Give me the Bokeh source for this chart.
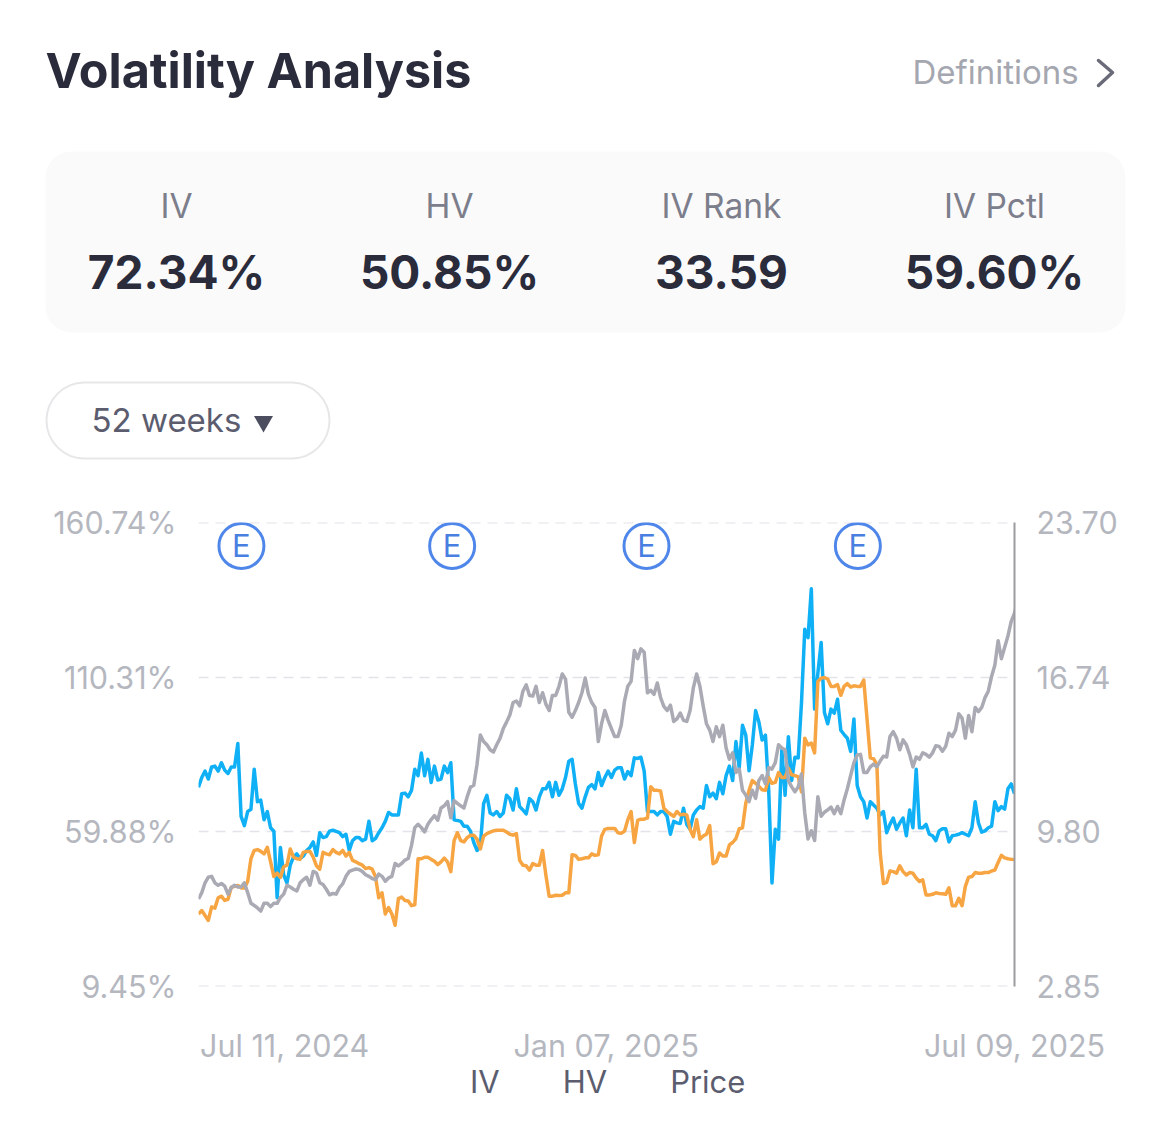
from bokeh.plotting import figure
from bokeh.models import (Range1d, LinearAxis, FixedTicker, BoxAnnotation, Legend, LegendItem)
from bokeh.core.properties import value
from bokeh.embed import file_html
from bokeh.resources import INLINE

iv = [74.4,77.6,79.7,77.1,81.0,81.3,79.7,82.4,80.0,78.9,81.0,81.0,88.7,64.9,61.9,66.5,67.2,80.3,69.7,70.2,63.8,66.5,61.2,60.1,38.4,54.8,45.8,43.2,49.0,51.7,52.7,51.1,52.0,53.8,54.8,56.6,52.2,59.6,58.0,58.3,60.1,60.4,60.0,59.6,58.3,59.1,53.8,57.0,58.0,58.0,57.0,57.5,63.3,57.0,57.7,59.6,61.2,63.3,66.2,65.4,65.4,65.4,72.3,72.5,71.3,73.4,80.3,78.2,85.6,78.2,83.5,76.0,81.3,76.8,77.1,81.3,79.2,82.4,63.8,63.6,63.3,61.7,61.7,60.1,56.4,53.8,55.4,
      69.1,71.8,66.0,65.4,66.5,64.9,66.0,71.8,70.7,67.0,73.9,68.1,67.0,65.7,70.7,69.7,67.0,71.3,73.9,73.9,76.0,71.3,76.0,71.8,73.9,77.6,82.9,83.5,75.5,69.1,67.6,71.3,74.4,75.3,73.9,79.2,75.0,77.6,79.7,77.6,80.0,80.8,80.8,77.1,79.5,78.2,84.0,83.8,84.2,79.7,66.5,66.5,66.5,65.4,66.5,66.5,64.9,59.1,63.3,62.8,62.6,67.6,62.3,60.7,65.4,67.0,68.1,67.6,75.0,71.3,72.5,70.7,76.0,72.3,78.2,81.3,76.6,89.3,80.8,94.6,
      91.4,79.8,88.2,99.4,95.7,89.8,91.4,73.4,43.2,60.7,57.5,86.6,71.8,90.9,76.6,84.2,84.0,102.0,125.9,123.2,139.1,99.9,111.6,121.6,98.8,95.1,99.9,98.6,103.1,93.0,91.6,90.4,86.1,96.7,75.0,71.3,69.7,64.4,69.7,68.6,67.6,65.4,66.5,59.6,62.3,64.4,60.7,62.8,64.4,58.6,67.0,61.2,80.3,61.2,61.2,62.3,59.1,58.6,57.0,60.2,60.9,60.9,56.6,58.6,58.8,59.1,59.6,59.1,58.6,61.2,69.7,62.8,59.8,60.2,61.2,61.7,69.7,66.8,68.1,67.3,73.9,75.5,72.34]

hv = [33.1,34.2,32.6,31.0,35.4,35.0,38.4,38.9,37.5,37.9,41.8,42.1,42.4,41.6,41.6,43.7,51.1,53.8,54.1,53.5,52.7,54.8,50.1,45.3,46.4,45.0,48.5,49.0,54.3,51.6,51.1,50.9,53.2,53.5,53.5,51.6,48.8,47.7,53.2,52.7,52.4,54.1,53.2,52.7,53.8,52.0,53.2,50.6,50.1,49.5,49.0,47.9,48.2,47.7,45.3,38.4,40.0,33.1,35.2,33.1,29.4,38.1,38.6,37.5,37.3,35.8,36.1,51.1,51.1,51.6,51.6,50.9,50.3,49.2,50.1,51.3,50.1,46.9,57.0,59.6,57.0,56.6,58.0,58.8,58.8,57.5,54.3,58.5,59.3,59.8,60.2,60.4,60.4,60.4,59.8,59.1,58.8,59.3,50.6,49.0,48.8,47.4,49.5,49.0,49.0,53.8,45.8,38.9,38.9,39.2,39.1,39.2,40.0,40.0,52.4,52.2,50.9,51.1,51.4,51.4,52.7,52.2,52.4,58.5,60.7,61.0,61.0,61.0,59.6,59.4,60.1,63.8,66.5,56.4,63.6,64.0,64.0,64.4,74.6,73.4,73.4,73.2,67.6,66.5,65.7,64.9,66.5,65.4,65.6,65.4,60.7,58.3,63.8,57.5,58.5,59.1,61.9,49.5,50.1,53.0,52.0,52.0,55.6,56.4,57.7,60.9,61.2,
      69.2,73.4,76.6,75.7,74.7,73.6,73.4,77.6,75.7,76.0,79.2,77.6,77.6,80.6,78.5,78.2,77.9,72.9,90.4,88.2,88.8,85.6,108.9,110.0,110.2,109.7,107.3,107.3,107.9,104.4,107.3,108.2,107.1,107.5,107.3,107.3,109.4,96.7,84.0,83.7,81.9,53.3,43.0,43.4,47.1,46.9,46.4,48.8,46.9,45.8,46.6,46.4,44.8,43.7,44.2,39.3,39.3,39.5,40.0,39.8,39.7,39.5,41.6,35.8,35.8,38.2,35.8,42.1,45.1,45.3,46.6,46.4,46.4,46.6,46.6,47.1,47.4,49.9,52.2,51.4,51.1,50.9,50.85]

price = [6.78,7.07,7.51,7.76,7.80,7.51,7.40,7.48,7.36,7.00,7.29,7.40,7.32,7.32,7.51,7.07,6.59,6.49,6.38,6.24,6.59,6.59,6.44,6.59,6.59,6.85,7.00,7.40,7.32,7.22,7.14,7.51,7.65,7.76,7.40,8.02,7.95,7.51,7.43,7.22,6.97,7.03,7.00,7.29,7.46,7.80,8.02,8.08,8.13,8.11,8.02,7.87,7.80,7.70,7.65,7.90,7.80,7.58,7.73,7.80,8.38,8.27,8.38,8.53,8.60,9.19,9.99,10.14,9.99,9.80,10.14,10.35,10.53,10.32,10.87,10.97,11.16,10.43,11.20,11.08,10.97,10.87,11.38,11.81,11.89,
         12.84,14.15,13.86,13.71,13.49,13.39,13.71,14.00,14.44,14.73,15.05,15.61,15.68,15.46,16.12,16.41,15.93,15.90,16.34,15.61,16.05,15.54,15.25,15.93,15.93,16.34,16.89,16.66,15.17,14.95,15.25,15.61,16.05,16.71,15.98,15.61,15.39,13.86,14.66,15.25,14.81,14.44,14.08,14.08,14.59,15.68,16.34,16.56,17.95,17.58,18.02,17.87,16.05,16.16,15.98,16.49,15.83,15.44,15.25,15.49,14.76,14.88,15.14,14.81,14.76,15.25,16.27,16.89,16.34,15.46,14.66,14.37,13.86,14.52,14.08,14.59,13.57,13.06,13.35,12.47,12.62,
         11.67,11.45,11.16,11.67,11.30,12.11,12.33,11.96,12.69,12.62,12.91,13.71,13.57,13.49,12.11,11.82,11.60,11.82,12.40,10.65,9.48,9.85,9.41,11.38,10.50,10.68,10.79,10.91,10.62,10.94,10.62,11.23,11.74,12.33,12.91,13.25,13.28,12.47,12.47,12.72,12.84,12.72,12.98,13.20,13.16,14.08,14.30,14.01,13.49,13.93,13.71,13.28,12.72,13.16,13.06,13.35,13.28,13.16,13.35,13.67,13.64,13.42,13.64,14.23,14.08,14.37,15.10,14.91,14.01,15.03,14.30,15.39,15.20,15.39,15.83,16.12,16.78,17.29,18.39,17.58,18.09,18.60,19.26,19.63,20.21]

n_days = 250
iv_ticks = [9.45, 59.88, 110.31, 160.74]
price_ticks = [2.85, 9.80, 16.74, 23.70]
date_ticks = [26.3, 124.4, 249]
date_labels = ["Jul 11, 2024", "Jan 07, 2025", "Jul 09, 2025"]
earnings_days = [13.1, 77.4, 136.7, 201.2]
earnings_level = [153.1, 153.1, 153.1, 153.1]
stat_names = ["IV", "HV", "IV Rank", "IV Pctl"]
stat_values = ["72.34%", "50.85%", "33.59", "59.60%"]
stat_centers = [176, 449, 721, 994]
legend_names = ["IV", "HV", "Price"]

FONT = "Inter"
C_IV, C_HV, C_PRICE = "#0fb0f5", "#f7a543", "#a9aab3"
C_TICK = "#b5b7bf"

# ---------- header (page pixels)
h = figure(width=1162, height=490, x_range=Range1d(0, 1162), y_range=Range1d(490, 0),
           output_backend="svg", toolbar_location=None, min_border=0, outline_line_color=None)
h.axis.visible = False
h.grid.visible = False
h.add_layout(BoxAnnotation(left=45, right=1125, top=151, bottom=332, border_radius=26, level="underlay",
                           fill_color="#fafafb", fill_alpha=1, line_color=None))
h.add_layout(BoxAnnotation(left=46, right=329, top=382, bottom=458, border_radius=38, level="underlay",
                           fill_color="#ffffff", fill_alpha=1, line_color="#aeaeb5", line_width=2))
def t(x, y, s, size, color, align="left", style="normal"):
    h.text(x=[x], y=[y], text=[s], text_font=value(FONT), text_font_size=f"{size}px", text_color=color,
           text_align=align, text_baseline="middle", text_font_style=style)
t(45, 70, "Volatility Analysis", 48.5, "#2b2c3b", style="bold")
t(912, 71, "Definitions", 33, "#a5a7b0")
h.line([1098, 1112, 1098], [60, 72, 85], line_color="#6a6b78", line_width=3.5, line_cap="round", line_join="round")
for cx, n, v in zip(stat_centers, stat_names, stat_values):
    t(cx, 205, n, 33.5, "#7c7e8b", "center")
    t(cx, 271, v, 46, "#2b2c3b", "center", "bold")
t(91, 419, "52 weeks", 33, "#5b5d6f")
h.scatter([263], [421], marker="inverted_triangle", size=19, fill_color="#4c4e60", line_color=None)

# ---------- chart
p = figure(width=1162, height=576, x_range=Range1d(0, n_days - 1), y_range=Range1d(iv_ticks[0], iv_ticks[-1]),
           output_backend="svg", toolbar_location=None, outline_line_color=None,
           min_border_left=198, min_border_right=148, min_border_top=32, min_border_bottom=68)
p.extra_y_ranges = {"price": Range1d(price_ticks[0], price_ticks[-1])}

def style(ax):
    ax.major_tick_line_color = None
    ax.minor_tick_line_color = None
    ax.major_label_text_font = FONT
    ax.major_label_text_font_size = "30.5px"
    ax.major_label_text_color = C_TICK

p.yaxis.ticker = FixedTicker(ticks=iv_ticks)
p.yaxis.major_label_overrides = {v: f"{v:.2f}%" for v in iv_ticks}
p.yaxis.axis_line_color = None
p.yaxis.major_label_standoff = 16
style(p.yaxis[0])

ra = LinearAxis(y_range_name="price", ticker=FixedTicker(ticks=price_ticks))
ra.major_label_overrides = {v: f"{v:.2f}" for v in price_ticks}
ra.axis_line_color = "#9b9ba2"
ra.axis_line_width = 2
ra.major_label_standoff = 16
style(ra)
p.add_layout(ra, "right")

p.xaxis.ticker = FixedTicker(ticks=date_ticks)
p.xaxis.major_label_overrides = dict(zip(date_ticks, date_labels))
p.xaxis.axis_line_color = None
p.xaxis.major_label_standoff = 34
style(p.xaxis[0])

p.xgrid.visible = False
p.ygrid.ticker = FixedTicker(ticks=iv_ticks)
p.ygrid.grid_line_color = "#e3e4ea"
p.ygrid.grid_line_width = 1.5
p.ygrid.grid_line_dash = "10 7"
p.hspan(y=[iv_ticks[0], iv_ticks[-1]], line_color="#e3e4ea", line_width=2, line_dash="10 7")

p.line(list(range(len(iv))), iv, line_color=C_IV, line_width=3.5, line_join="round")
p.line(list(range(len(hv))), hv, line_color=C_HV, line_width=3.5, line_join="round")
p.line(list(range(len(price))), price, line_color=C_PRICE, line_width=3.5, line_join="round", y_range_name="price")

p.scatter(earnings_days, earnings_level, marker="circle", size=45, fill_color="#ffffff",
          line_color="#4f86ea", line_width=3)
p.text(earnings_days, earnings_level, text=["E"] * 4, text_font=value(FONT), text_font_size="31px",
       text_color="#4a7fe2", text_align="center", text_baseline="middle")

# ---------- legend strip
f = figure(width=1162, height=69, x_range=Range1d(0, 1), y_range=Range1d(0, 1),
           output_backend="svg", toolbar_location=None, min_border=0, outline_line_color=None)
f.axis.visible = False
f.grid.visible = False
keys = [f.line([], [], line_color=c, line_width=6) for c in (C_IV, C_HV, C_PRICE)]
lg = Legend(items=[LegendItem(label=n, renderers=[k]) for n, k in zip(legend_names, keys)],
            orientation="horizontal", location=(437, 35), padding=0, margin=0, spacing=30,
            glyph_width=18, glyph_height=30, label_standoff=15, background_fill_alpha=0,
            border_line_color=None, label_text_font=FONT, label_text_font_size="31px",
            label_text_color="#5b5d6f")
f.add_layout(lg, "center")

open("out.html", "w").write(file_html([h, p, f], INLINE))
